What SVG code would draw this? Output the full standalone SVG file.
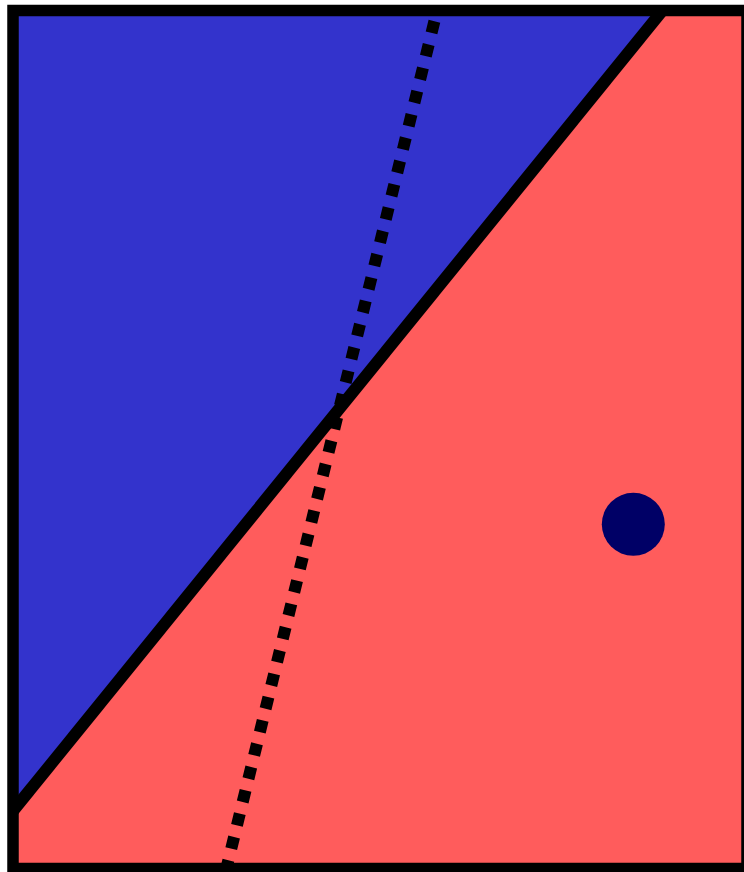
<svg xmlns="http://www.w3.org/2000/svg" width="744" height="872" viewBox="0 0 744 872">
  <defs>
    <style>
      .edge { stroke: #000; fill: none; }
    </style>
    <clipPath id="frame">
      <rect x="13" y="10.5" width="734" height="858"/>
    </clipPath>
  </defs>
  <rect x="0" y="0" width="744" height="872" fill="#ffffff"/>
  <g id="regions" clip-path="url(#frame)">
    <rect id="blue-region" x="0" y="0" width="760" height="880" fill="#3333cc"/>
    <polygon id="red-region" points="671,0 760,0 760,880 0,880 0,826.9" fill="#ff5c5c"/>
  </g>
  <g id="connectors" clip-path="url(#frame)">
    <line id="boundary" class="edge" x1="671" y1="0" x2="0" y2="826.9" stroke-width="12"/>
    <line id="dotted" class="edge" x1="434.4" y1="21.2" x2="225.5" y2="872" stroke-width="12" stroke-dasharray="12 12"/>
  </g>
  <g id="point">
    <circle cx="633.3" cy="524.3" r="31.5" fill="#000066"/>
  </g>
  <g id="border">
    <rect class="edge" x="13" y="10.5" width="734" height="858" stroke-width="11.5"/>
  </g>
</svg>
